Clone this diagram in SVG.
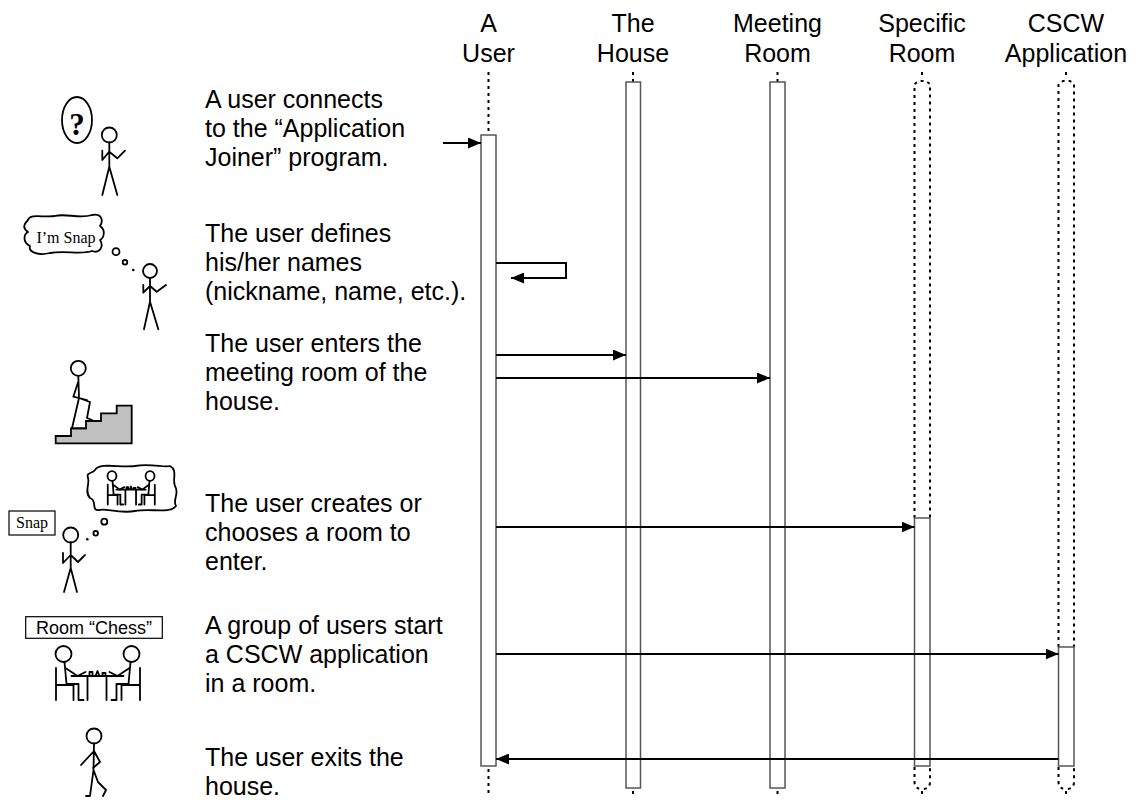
<svg xmlns="http://www.w3.org/2000/svg" width="1143" height="800" viewBox="0 0 1143 800">
  <style>
    .lbl { font-family: "Liberation Sans", Arial, sans-serif; font-size: 25px; fill: #000; }
    .hdr { font-family: "Liberation Sans", Arial, sans-serif; font-size: 25px; fill: #000; text-anchor: middle; }
    .serif { font-family: "Liberation Serif", "Times New Roman", serif; fill: #000; }
    .ink { fill: none; stroke: #000; stroke-width: 1.8; stroke-linecap: round; stroke-linejoin: round; vector-effect: non-scaling-stroke; }
    .dot { fill: none; stroke: #000; stroke-width: 2; stroke-dasharray: 3 4; }
    .act { fill: #fff; stroke: #555; stroke-width: 1.5; }
    .msg { fill: none; stroke: #000; stroke-width: 2; marker-end: url(#head); }
  </style>
  <defs>
    <marker id="head" markerUnits="userSpaceOnUse" markerWidth="13" markerHeight="11" refX="13" refY="5.5" orient="auto">
      <path d="M0,0 L13,5.5 L0,11 Z" fill="#000"/>
    </marker>
    <!-- two players seated at a chess table, origin between the heads -->
    <g id="chessScene">
      <circle class="ink" cx="-34" cy="0" r="8"/>
      <circle class="ink" cx="34" cy="0" r="8"/>
      <path class="ink" d="M-41.5,14 V46 M-41.5,31 H-24 V46 M-33,8 L-31,30 H-19 V46 H-14 M-32,14 L-20,22 L-12,18"/>
      <path class="ink" d="M42.5,14 V46 M42.5,31 H24 V46 M33,8 L31,30 H19 V46 H14 M32,14 L20,22 L12,18"/>
      <path class="ink" d="M-26,22 H26 M-10,22 V46 M9,22 V46 M-8,22 V18 H-5 V22 M-2,22 L0,17 L2,22 M5,22 V19 H8 V22"/>
    </g>
  </defs>

  <!-- lifeline headers -->
  <g id="headers">
    <text class="hdr" x="488.5" y="32">A</text><text class="hdr" x="488.5" y="62">User</text>
    <text class="hdr" x="633" y="32">The</text><text class="hdr" x="633" y="62">House</text>
    <text class="hdr" x="777.5" y="32">Meeting</text><text class="hdr" x="777.5" y="62">Room</text>
    <text class="hdr" x="922" y="32">Specific</text><text class="hdr" x="922" y="62">Room</text>
    <text class="hdr" x="1066" y="32">CSCW</text><text class="hdr" x="1066" y="62">Application</text>
  </g>

  <!-- lifelines -->
  <g id="lifeline-user">
    <line class="dot" x1="488.5" y1="72" x2="488.5" y2="135"/>
    <rect class="act" x="481" y="135" width="15" height="631"/>
    <line class="dot" x1="488.5" y1="769" x2="488.5" y2="797"/>
  </g>
  <g id="lifeline-house">
    <line class="dot" x1="633" y1="72" x2="633" y2="82"/>
    <rect class="act" x="626" y="82" width="14.5" height="706"/>
    <line class="dot" x1="633" y1="791" x2="633" y2="797"/>
  </g>
  <g id="lifeline-meeting">
    <line class="dot" x1="777.5" y1="72" x2="777.5" y2="82"/>
    <rect class="act" x="770" y="82" width="15" height="706"/>
    <line class="dot" x1="777.5" y1="791" x2="777.5" y2="797"/>
  </g>
  <g id="lifeline-specific">
    <line class="dot" x1="922" y1="72" x2="922" y2="79"/>
    <path class="dot" d="M914.5,518 V84 L919,81 H926 L930,84 V518"/>
    <rect class="act" x="914.5" y="518" width="15.5" height="248"/>
    <path class="dot" d="M914.5,767 V782 Q914.5,789 922,789 Q930,789 930,782 V767"/>
    <line class="dot" x1="922" y1="791" x2="922" y2="797"/>
  </g>
  <g id="lifeline-cscw">
    <line class="dot" x1="1066" y1="72" x2="1066" y2="79"/>
    <path class="dot" d="M1058.5,647 V84 L1063,81 H1070 L1074,84 V647"/>
    <rect class="act" x="1058.5" y="647" width="15.5" height="119"/>
    <path class="dot" d="M1058.5,767 V782 Q1058.5,789 1066,789 Q1074,789 1074,782 V767"/>
    <line class="dot" x1="1066" y1="791" x2="1066" y2="797"/>
  </g>

  <!-- messages -->
  <g id="connectors">
    <line class="msg" x1="443" y1="143" x2="481" y2="143"/>
    <polyline class="msg" points="496,263 566,263 566,278 511,278"/>
    <line class="msg" x1="496" y1="355" x2="626" y2="355"/>
    <line class="msg" x1="496" y1="378" x2="770" y2="378"/>
    <line class="msg" x1="496" y1="527" x2="914.5" y2="527"/>
    <line class="msg" x1="496" y1="654" x2="1058.5" y2="654"/>
    <line class="msg" x1="1058.5" y1="759" x2="496" y2="759"/>
  </g>

  <!-- step 1: connecting -->
  <g id="step-connect">
    <ellipse class="ink" cx="77" cy="120" rx="15" ry="23"/>
    <text class="serif" x="77" y="135" font-size="31" font-weight="bold" text-anchor="middle">?</text>
    <circle class="ink" cx="109.3" cy="135" r="7.5"/>
    <path class="ink" d="M109.3,142.5 V166.7 L102.3,195 M109.3,166.7 L117.3,195 M102.3,150.7 V160 L109.3,151.7 L117.3,158.3 L125,150.7"/>
    <text class="lbl" x="205" y="108">A user connects</text>
    <text class="lbl" x="205" y="137">to the “Application</text>
    <text class="lbl" x="205" y="166">Joiner” program.</text>
  </g>

  <!-- step 2: naming -->
  <g id="step-name">
    <path class="ink" d="M28,220 C30,213 45,218 55,216 C65,213 80,219 92,215 C101,213 104,220 100,226 C106,230 104,238 100,240 C104,246 100,254 92,251 C80,255 65,250 50,253 C38,256 28,252 30,246 C22,242 24,234 28,232 C22,228 24,224 28,220 Z"/>
    <text class="serif" x="66" y="243" font-size="16" text-anchor="middle">I’m Snap</text>
    <circle class="ink" cx="116" cy="251.7" r="3.5"/>
    <circle class="ink" cx="125" cy="262.3" r="2.3"/>
    <circle cx="133.3" cy="270" r="1.3" fill="#000"/>
    <circle class="ink" cx="150" cy="271" r="7"/>
    <path class="ink" d="M150,278 V301.7 L144,329.3 M150,301.7 L158.3,329.3 M143.3,285 V292.7 L150,286 L156.7,291.7 L166,285"/>
    <text class="lbl" x="205" y="242">The user defines</text>
    <text class="lbl" x="205" y="271">his/her names</text>
    <text class="lbl" x="205" y="300">(nickname, name, etc.).</text>
  </g>

  <!-- step 3: entering the house -->
  <g id="step-enter">
    <path d="M55.7,443.3 V436 H71 V428.3 H86 V421 H101 V413.3 H116.7 V405.7 H131.7 V443.3 Z" fill="#c0c0c0" stroke="#000" stroke-width="1.8"/>
    <circle class="ink" cx="78.3" cy="368.3" r="7.5"/>
    <path class="ink" d="M78.3,375.8 L79,398 L72,428.3 H86 M79,398 L90,402 L87,418 L92,420 M78.5,381 L73.3,396.7 L87,400"/>
    <text class="lbl" x="205" y="352">The user enters the</text>
    <text class="lbl" x="205" y="381">meeting room of the</text>
    <text class="lbl" x="205" y="410">house.</text>
  </g>

  <!-- step 4: choosing a room -->
  <g id="step-room">
    <path class="ink" d="M95,470 C100,462 120,468 135,466 C150,463 165,468 170,466 C178,470 172,480 175,486 C180,494 172,500 176,506 C170,514 150,508 135,511 C120,514 105,508 100,510 C90,512 98,500 90,498 C84,492 90,484 88,478 C86,472 92,474 95,470 Z"/>
    <use href="#chessScene" transform="translate(131,476) scale(0.56,0.62)"/>
    <rect x="9" y="511" width="46" height="24" fill="#fff" stroke="#000" stroke-width="1.2"/>
    <text class="serif" x="32" y="528" font-size="16" text-anchor="middle">Snap</text>
    <circle class="ink" cx="104.3" cy="521.7" r="3"/>
    <circle class="ink" cx="95.7" cy="533.3" r="2.3"/>
    <circle cx="87.3" cy="539.3" r="1.3" fill="#000"/>
    <circle class="ink" cx="70.7" cy="535" r="7.5"/>
    <path class="ink" d="M70.7,542.5 V568 L64,592 M70.7,568 L77,592 M63,553 V563 L70.7,555 L78,562 L85,555"/>
    <text class="lbl" x="205" y="512">The user creates or</text>
    <text class="lbl" x="205" y="541">chooses a room to</text>
    <text class="lbl" x="205" y="570">enter.</text>
  </g>

  <!-- step 5: starting an application -->
  <g id="step-app">
    <rect x="25.7" y="616.7" width="136.6" height="21.6" fill="#fff" stroke="#000" stroke-width="1.2"/>
    <text x="94" y="634" font-family="Liberation Sans, Arial, sans-serif" font-size="18" text-anchor="middle">Room “Chess”</text>
    <use href="#chessScene" transform="translate(97.5,654)"/>
    <text class="lbl" x="205" y="634">A group of users start</text>
    <text class="lbl" x="205" y="663">a CSCW application</text>
    <text class="lbl" x="205" y="692">in a room.</text>
  </g>

  <!-- step 6: leaving -->
  <g id="step-exit">
    <circle class="ink" cx="94" cy="736" r="7.5"/>
    <path class="ink" d="M94,743.5 L93.5,770 L90,796 H86 M93.5,770 L98,782 L106,790 L103,796 M94,751 L81,765 M94,751 L100,762 L93,768"/>
    <text class="lbl" x="205" y="766">The user exits the</text>
    <text class="lbl" x="205" y="795">house.</text>
  </g>
</svg>
